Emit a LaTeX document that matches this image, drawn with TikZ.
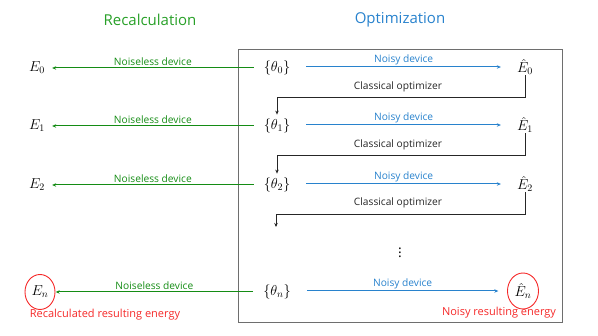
\documentclass[tikz,border=0pt]{standalone}
\usepackage{fontspec}
\setmainfont{Open Sans}
\usetikzlibrary{arrows.meta,calc}
\definecolor{grn}{RGB}{20,140,20}
\definecolor{grnt}{RGB}{40,160,40}
\definecolor{blu}{RGB}{40,130,205}
\definecolor{rd}{RGB}{245,40,40}
\definecolor{gry}{RGB}{110,110,110}
\begin{document}
\begin{tikzpicture}[x=1pt,y=-1pt,
  lbl/.style={font=\fontsize{10.2}{11}\selectfont, inner sep=1pt},
  rlbl/.style={font=\fontsize{11}{12}\selectfont, inner sep=1pt, text=rd},
  ttl/.style={font=\fontsize{15}{17}\selectfont},
  mth/.style={font=\fontsize{14}{15}\selectfont, inner sep=2pt},
  garr/.style={draw=grn, line width=1pt, -{Stealth[length=4pt,width=3.5pt]}},
  barr/.style={draw=blu, line width=1pt, -{Stealth[length=4pt,width=3.5pt]}},
  karr/.style={draw=black!85, line width=1pt, -{Stealth[length=4pt,width=3.5pt]}},
  ring/.style={draw=rd, line width=0.9pt}
]
\useasboundingbox (0,0) rectangle (598,336);
\node[ttl, text=grnt] (t1) at (150,20) {Recalculation};
\node[ttl, text=blu] (t2) at (400,20) {Optimization};
\node[draw=gry, line width=1.1pt, minimum width=324pt, minimum height=273pt, anchor=north west, inner sep=0pt] (box) at (238,49) {};

% rows
\foreach \i/\y/\s in {0/68/0,1/126/1,2/185/2} {
  \node[mth] (E\i) at (37,\y) {$E_{\s}$};
  \node[mth] (th\i) at (277,\y) {$\{\theta_{\s}\}$};
  \node[mth] (Eh\i) at (525,\y-1) {$\hat{E}_{\s}$};
}
\node[mth] (En) at (40,292) {$E_n$};
\node[mth] (thn) at (277,292) {$\{\theta_n\}$};
\node[mth] (Ehn) at (523,291) {$\hat{E}_n$};

\foreach \i in {0,1,2,n} {
  \draw[garr] ($(th\i.west)+(-8,0)$) -- ($(E\i.east)+(5,0)$) node[midway, lbl, above, text=grn, yshift=1pt] (gl\i) {Noiseless device};
  \draw[barr] ($(th\i.east)+(14,-1)$) -- ($(Eh\i.west)+(-14,0)$) node[midway, lbl, above, text=blu, yshift=1pt] (bl\i) {Noisy device};
}

% optimizer loops
\draw[karr] ($(Eh0.south)+(0,-2)$) -- ++(0,22) -| ($(th1.north)+(0,-2)$);
\node[lbl, text=black!85] (co0) at (398,87) {Classical optimizer};
\draw[karr] ($(Eh1.south)+(0,-2)$) -- ++(0,22) -| ($(th2.north)+(0,-2)$);
\node[lbl, text=black!85] (co1) at (398,145) {Classical optimizer};
\draw[karr] ($(Eh2.south)+(0,-2)$) -- ++(0,22) -| (276,227);
\node[lbl, text=black!85] (co2) at (398,203) {Classical optimizer};

\node[font=\fontsize{14}{15}\selectfont] (dots) at (400,250) {$\vdots$};

% red highlights
\draw[ring] (En.center) ellipse (15pt and 17.5pt);
\draw[ring] (Ehn.center) ellipse (15.5pt and 18pt);
\node[rlbl] (rl1) at (105,315) {Recalculated resulting energy};
\node[rlbl] (rl2) at (499,313) {Noisy resulting energy};
\end{tikzpicture}
\end{document}
